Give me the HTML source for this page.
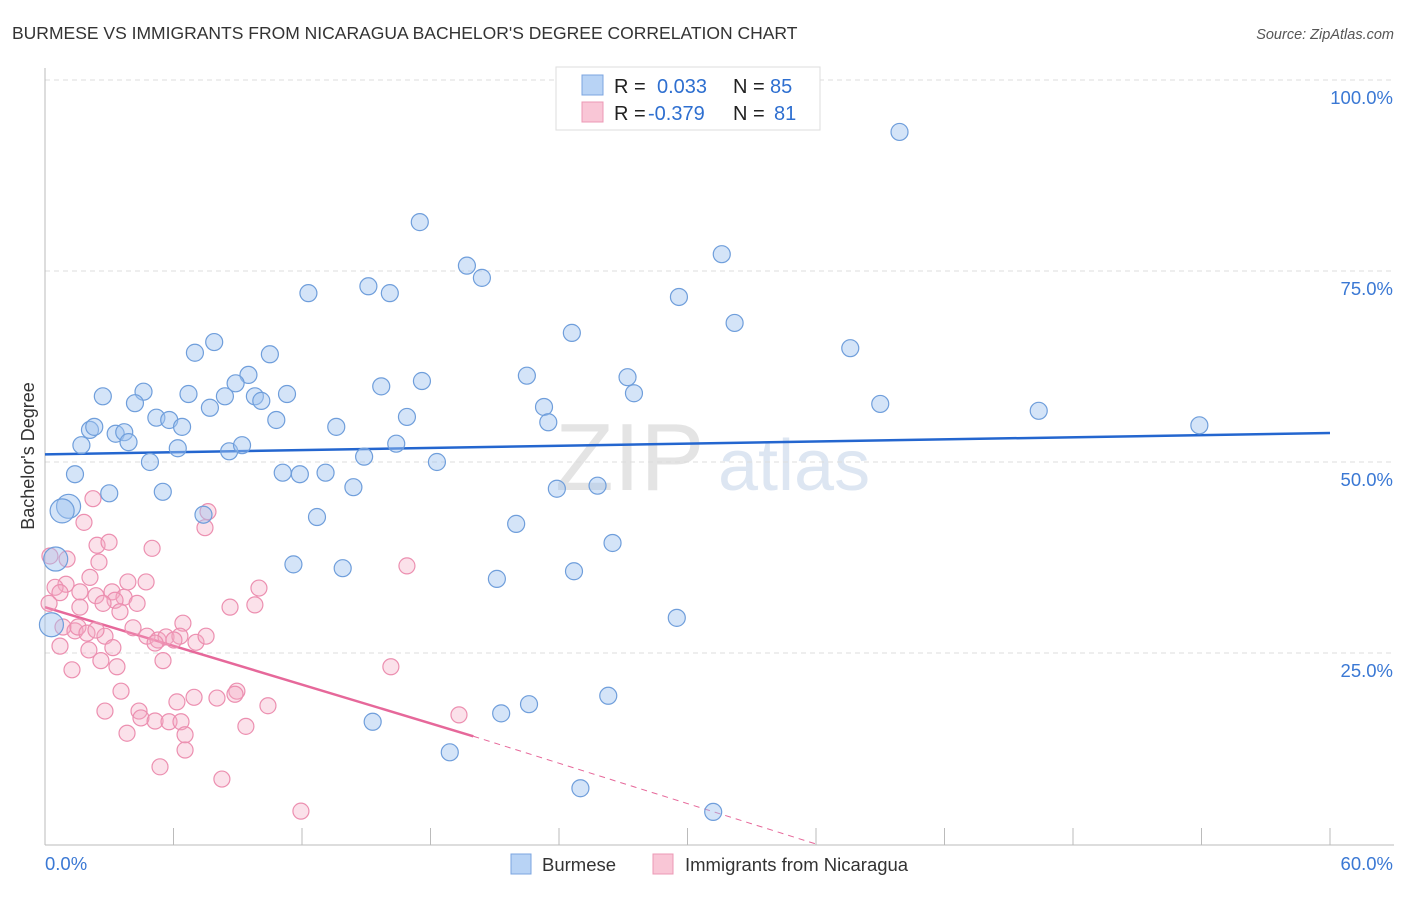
<!DOCTYPE html>
<html><head><meta charset="utf-8">
<style>
body{margin:0;background:#fff;font-family:"Liberation Sans",sans-serif;}
svg text{font-family:"Liberation Sans",sans-serif;}
</style></head>
<body>
<svg id="chart" width="1406" height="892" xmlns="http://www.w3.org/2000/svg">
<text x="12" y="39" font-size="17.5" fill="#333">BURMESE VS IMMIGRANTS FROM NICARAGUA BACHELOR'S DEGREE CORRELATION CHART</text>
<text x="1394" y="39" font-size="14.5" fill="#555" font-style="italic" text-anchor="end">Source: ZipAtlas.com</text>
<text transform="translate(34,456) rotate(-90)" font-size="18" fill="#333" text-anchor="middle">Bachelor's Degree</text>
<g>
<text x="555" y="490" font-size="96" fill="#e4e4e4" font-family="Liberation Serif">ZIP</text>
<text x="718" y="490" font-size="72" fill="#dde6f2">atlas</text>
</g>
<g id="grid"></g>
<g id="axes"></g>
<g id="trend"></g>
<g id="pts"></g>
<g>
<rect x="556" y="67" width="264" height="63" fill="#fff" stroke="#ddd"/>
<rect x="582" y="75" width="21" height="20" fill="#b8d3f5" stroke="#7ba5e0"/>
<rect x="582" y="102" width="21" height="20" fill="#f9c6d6" stroke="#ec98b5"/>
<text x="614" y="93" font-size="20" fill="#222">R = <tspan x="657" fill="#2e6fd0">0.033</tspan></text>
<text x="733" y="93" font-size="20" fill="#222">N = <tspan x="770" fill="#2e6fd0">85</tspan></text>
<text x="614" y="120" font-size="20" fill="#222">R = <tspan x="648" fill="#2e6fd0">-0.379</tspan></text>
<text x="733" y="120" font-size="20" fill="#222">N = <tspan x="774" fill="#2e6fd0">81</tspan></text>
</g>
<g>
<rect x="511" y="854" width="20" height="20" fill="#b8d3f5" stroke="#7ba5e0"/>
<text x="542" y="871" font-size="18.5" fill="#333">Burmese</text>
<rect x="653" y="854" width="20" height="20" fill="#f9c6d6" stroke="#ec98b5"/>
<text x="685" y="871" font-size="18.5" fill="#333">Immigrants from Nicaragua</text>
</g>
</svg>
<script>
const yTicks=[25,50,75,100];
const yTickLabels=["25.0%","50.0%","75.0%","100.0%"];
const xTicks=[0,6,12,18,24,30,36,42,48,54,60];
const xTickLabels=["0.0%","60.0%"];
const burmeseX=[39.9,17.5,19.7,20.4,31.6,29.6,12.3,15.1,16.1,32.2,24.6,37.6,7.9,7.0,10.5,9.5,8.9,15.7,17.6,22.5,27.2,27.5,2.7,4.6,4.2,6.7,8.4,9.8,10.1,11.3,7.7,5.2,5.8,6.4,10.8,16.9,23.3,23.5,39.0,46.4,53.9,13.6,2.1,2.3,3.3,3.7,3.9,1.7,6.2,8.6,9.2,16.4,4.9,14.9,18.3,1.4,11.1,11.9,13.1,14.4,5.5,3.0,23.9,25.8,1.1,0.8,7.4,12.7,22.0,26.5,0.5,11.6,13.9,24.7,21.1,29.5,0.3,26.3,22.6,21.3,15.3,18.9,25.0,31.2];
const burmeseY=[93.2,81.4,75.7,74.1,77.2,71.6,72.1,73.0,72.1,68.2,66.9,64.9,65.7,64.3,64.1,61.4,60.3,59.9,60.6,61.3,61.1,59.0,58.6,59.2,57.7,58.9,58.6,58.6,58.0,58.9,57.1,55.8,55.5,54.6,55.5,55.9,57.2,55.2,57.6,56.7,54.8,54.6,54.2,54.6,53.7,53.9,52.6,52.2,51.8,51.4,52.2,52.4,50.0,50.7,50.0,48.4,48.6,48.4,48.6,46.7,46.1,45.9,46.5,46.9,44.2,43.6,43.1,42.8,41.9,39.4,37.3,36.6,36.1,35.7,34.7,29.6,28.7,19.4,18.3,17.1,16.0,12.0,7.3,4.2];
const nicX=[2.24,1.82,7.61,7.47,2.43,2.99,5.0,2.52,1.03,0.23,2.1,4.72,3.87,0.98,0.47,0.7,1.63,2.38,3.13,3.69,4.3,3.27,2.71,0.19,1.63,3.5,8.64,9.8,9.99,16.9,6.44,0.84,1.4,1.54,4.11,4.76,2.8,2.05,3.17,5.28,5.65,6.3,5.14,6.02,7.05,7.52,0.7,2.61,3.36,5.51,1.26,16.15,3.55,8.96,8.87,6.96,6.16,8.03,10.41,2.8,4.39,4.48,5.14,5.79,6.35,9.38,3.83,6.54,6.54,5.37,8.26,11.95,19.33,1.96,2.38];
const nicY=[45.2,42.1,43.5,41.4,39.1,39.5,38.7,36.9,37.3,37.7,34.9,34.3,34.3,34.0,33.6,32.9,33.0,32.5,33.0,32.3,31.5,31.9,31.5,31.5,31.0,30.4,31.0,31.3,33.5,36.4,28.9,28.4,27.9,28.4,28.3,27.2,27.2,25.4,25.7,26.7,27.1,27.2,26.3,26.7,26.4,27.2,25.9,24.0,23.2,24.0,22.8,23.2,20.0,20.0,19.6,19.2,18.6,19.1,18.1,17.4,17.4,16.5,16.1,16.0,16.0,15.4,14.5,14.3,12.3,10.1,8.5,4.3,16.9,27.6,28.0];
const burmeseTrend=[51.0,53.8];
const nicTrend=[31.0,14.1,0];
const nicTrendX=[0,20,36];

const NS="http://www.w3.org/2000/svg";
const X0=45,X1=1330,Y0=844,Y100=80;
const sx=v=>X0+(v/60)*(X1-X0);
const sy=v=>Y0-(v/100)*(Y0-Y100);
function mk(tag,attrs,parent){const e=document.createElementNS(NS,tag);for(const k in attrs)e.setAttribute(k,attrs[k]);parent.appendChild(e);return e;}
const grid=document.getElementById('grid'),axes=document.getElementById('axes'),trend=document.getElementById('trend'),pts=document.getElementById('pts');
yTicks.forEach((t,i)=>{
 const l=mk('line',{x1:X0,x2:1394,y1:sy(t),y2:sy(t),stroke:'#ddd','stroke-dasharray':'5,4'},grid);
 
 
 const tx=mk('text',{x:1393,y:sy(t)+24,'font-size':18.5,fill:'#3a78d4','text-anchor':'end'},axes);
 tx.textContent=yTickLabels[i];
 
 
});
let a=mk('line',{x1:X0,x2:X0,y1:68,y2:845,stroke:'#bbb'},axes);


a=mk('line',{x1:X0,x2:1394,y1:845,y2:845,stroke:'#bbb'},axes);


xTicks.forEach(t=>{
 const l=mk('line',{x1:sx(t),x2:sx(t),y1:828,y2:845,stroke:'#bbb'},axes);
 
 
});
let t1=mk('text',{x:45,y:870,'font-size':18.5,fill:'#3a78d4'},axes);t1.textContent=xTickLabels[0];


let t2=mk('text',{x:1393,y:870,'font-size':18.5,fill:'#3a78d4','text-anchor':'end'},axes);t2.textContent=xTickLabels[1];



nicX.forEach((x,i)=>{
 const c=mk('circle',{cx:sx(x),cy:sy(nicY[i]),r:8,fill:'rgba(244,170,195,0.35)',stroke:'#ec8fb0','stroke-width':1.2},pts);
 
 
});
burmeseX.forEach((x,i)=>{
 const c=mk('circle',{cx:sx(x),cy:sy(burmeseY[i]),r:(x<1.2&&burmeseY[i]>28&&burmeseY[i]<45)?12:8.5,fill:'rgba(160,195,240,0.45)',stroke:'#6f9edb','stroke-width':1.2},pts);
 
 
});
let bl=mk('line',{x1:sx(0),y1:sy(burmeseTrend[0]),x2:sx(60),y2:sy(burmeseTrend[1]),stroke:'#2466cf','stroke-width':2.5},trend);


let pl=mk('line',{x1:sx(nicTrendX[0]),y1:sy(nicTrend[0]),x2:sx(nicTrendX[1]),y2:sy(nicTrend[1]),stroke:'#e6689a','stroke-width':2.5},trend);


let pd=mk('line',{x1:sx(nicTrendX[1]),y1:sy(nicTrend[1]),x2:sx(nicTrendX[2]),y2:sy(nicTrend[2]),stroke:'#e6689a','stroke-width':1,'stroke-dasharray':'6,5'},trend);


</script>
</body></html>
